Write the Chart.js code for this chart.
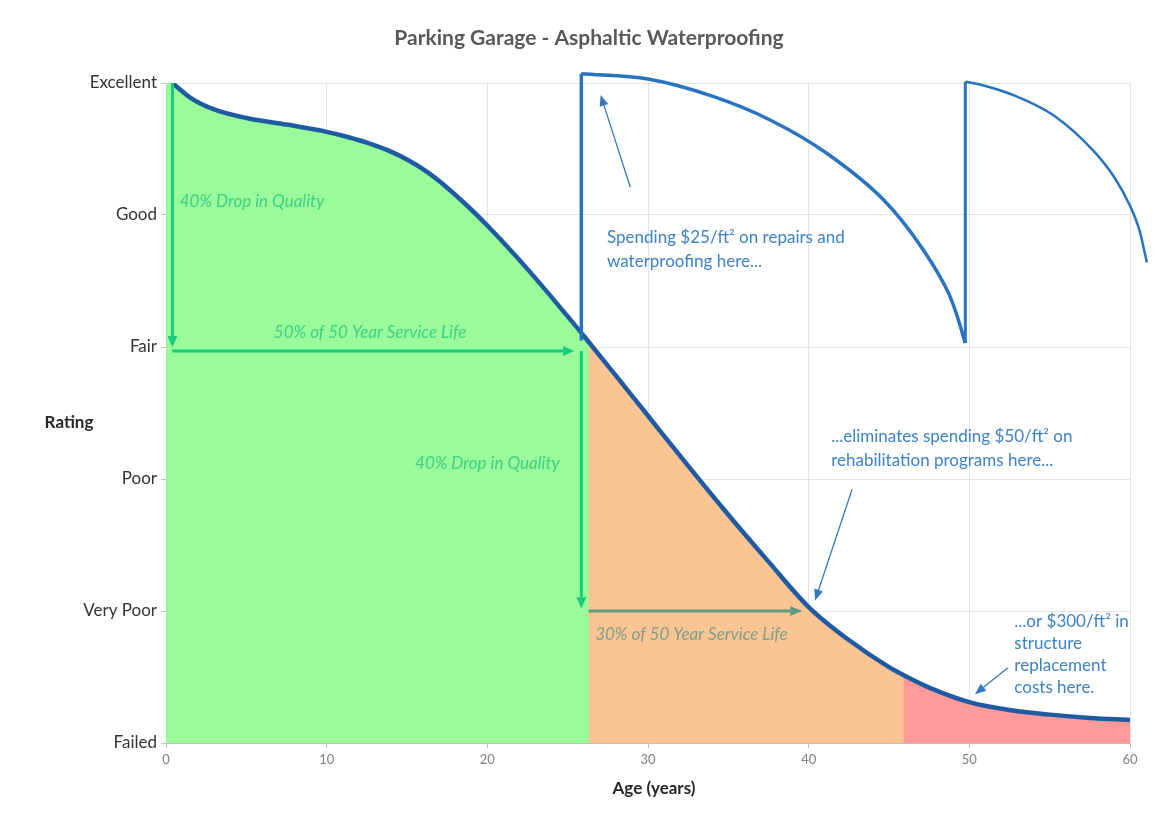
<!DOCTYPE html>
<html>
<head>
<meta charset="utf-8">
<title>Parking Garage - Asphaltic Waterproofing</title>
<script src="https://cdn.jsdelivr.net/npm/chart.js@4.4.1/dist/chart.umd.min.js"></script>
<style>
  html, body { margin: 0; padding: 0; background: #ffffff; }
  canvas { display: block; }
</style>
</head>
<body>
<canvas id="chart" width="1157" height="826"></canvas>
<script>
// Condition rating levels, 0 = Failed ... 5 = Excellent
const ratingLabels = ['Failed', 'Very Poor', 'Poor', 'Fair', 'Good', 'Excellent'];
const ageTicks = [0, 10, 20, 30, 40, 50, 60];

// Deterioration curve without maintenance
const ageYears = [0.4, 1.5, 3, 5, 7.5, 10, 11.25, 12.5, 13.75, 15, 16.25, 17.5, 18.75, 20, 22.5, 25, 26.3, 28, 30, 32.5, 35, 37.5, 40, 42.5, 45, 45.9, 47.5, 50, 52.5, 55, 57.5, 60];
const conditionRating = [5.0, 4.89, 4.80, 4.735, 4.685, 4.63, 4.593, 4.549, 4.493, 4.42, 4.326, 4.207, 4.07, 3.92, 3.59, 3.232, 3.04, 2.783, 2.479, 2.099, 1.729, 1.374, 1.03, 0.78, 0.575, 0.515, 0.42, 0.31, 0.25, 0.215, 0.19, 0.175];

// Shaded zones under the curve (end age of green and orange zones)
const greenZoneEnd = 26.3;
const orangeZoneEnd = 45.9;

// Condition after repairs + waterproofing at ~26 years and again at ~50 years
const repairCycle1Ages = [25.85, 30, 34, 37.6, 41.1, 44.7, 47, 48.7, 49.2, 49.75];
const repairCycle1Rating = [5.07, 5.03, 4.90, 4.72, 4.47, 4.11, 3.76, 3.41, 3.25, 3.03];
const repairCycle2Ages = [49.75, 50.6, 52.9, 55.3, 57.7, 59, 60, 60.6, 61.05];
const repairCycle2Rating = [5.01, 4.99, 4.90, 4.75, 4.49, 4.29, 4.07, 3.88, 3.64];
const repairJump1 = [[25.85, 3.05], [25.85, 5.07]];
const repairJump2 = [[49.75, 3.03], [49.75, 5.01]];

// Measurement arrows: [fromAge, fromRating, toAge, toRating]
const qualityArrows = [
  [0.4, 5.0, 0.4, 3.0],
  [0.4, 2.97, 25.4, 2.97],
  [25.85, 2.97, 25.85, 1.02],
];
const lifeArrow = [26.3, 1.0, 39.6, 1.0];
const noteArrows = [
  [28.9, 4.21, 27.05, 4.91],
  [42.7, 1.92, 40.4, 1.08],
  [52.4, 0.57, 50.35, 0.37],
];

// Text notes: [text, age, rating, align]
const greenNotes = [
  ['40% Drop in Quality', 0.85, 4.1, 'left'],
  ['50% of 50 Year Service Life', 12.7, 3.11, 'center'],
  ['40% Drop in Quality', 20.0, 2.12, 'center'],
];
const greyNotes = [
  ['30% of 50 Year Service Life', 32.7, 0.82, 'center'],
];
const blueNotes = [
  ['Spending $25/ft\u00B2 on repairs and', 27.45, 3.83, 'left'],
  ['waterproofing here...', 27.45, 3.65, 'left'],
  ['...eliminates spending $50/ft\u00B2 on', 41.4, 2.32, 'left'],
  ['rehabilitation programs here...', 41.4, 2.14, 'left'],
  ['...or $300/ft\u00B2 in', 52.8, 0.92, 'left'],
  ['structure', 52.8, 0.755, 'left'],
  ['replacement', 52.8, 0.59, 'left'],
  ['costs here.', 52.8, 0.42, 'left'],
];

const FONT = 'Lato, "Open Sans", sans-serif';

const toXY = (xs, ys) => xs.map((x, i) => ({ x: x, y: ys[i] }));
const curve = toXY(ageYears, conditionRating);
// each zone runs one point past its end and sits under the next zone, so no seam shows
const upTo = end => {
  const k = curve.findIndex(p => p.x > end);
  return k < 0 ? curve.length : k + 1;
};
const greenZone = [{ x: 0, y: 5 }].concat(curve.slice(0, upTo(greenZoneEnd)));
const orangeZone = curve.slice(curve.findIndex(p => p.x >= greenZoneEnd), upTo(orangeZoneEnd));
const redZone = curve.filter(p => p.x >= orangeZoneEnd);
const pairXY = pts => pts.map(p => ({ x: p[0], y: p[1] }));
// second cycle runs past the 60-year edge; listed end-first so every point is kept
const repairCycle2 = toXY(repairCycle2Ages, repairCycle2Rating).reverse();

function zoneDataset(data, color, order) {
  return {
    data: data, fill: 'origin', backgroundColor: color, borderWidth: 0,
    pointRadius: 0, cubicInterpolationMode: 'monotone', order: order
  };
}

function drawArrow(ctx, x1, y1, x2, y2, color, width, headLen, headHalf) {
  const ang = Math.atan2(y2 - y1, x2 - x1);
  const bx = x2 - headLen * Math.cos(ang);
  const by = y2 - headLen * Math.sin(ang);
  ctx.save();
  ctx.strokeStyle = color;
  ctx.fillStyle = color;
  ctx.lineWidth = width;
  ctx.lineCap = 'butt';
  ctx.beginPath();
  ctx.moveTo(x1, y1);
  ctx.lineTo(bx, by);
  ctx.stroke();
  ctx.beginPath();
  ctx.moveTo(x2, y2);
  ctx.lineTo(bx + headHalf * Math.sin(ang), by - headHalf * Math.cos(ang));
  ctx.lineTo(bx - headHalf * Math.sin(ang), by + headHalf * Math.cos(ang));
  ctx.closePath();
  ctx.fill();
  ctx.restore();
}

const annotations = {
  id: 'annotations',
  afterDraw(chart) {
    const ctx = chart.ctx;
    const xs = chart.scales.x, ys = chart.scales.y;
    const px = v => xs.getPixelForValue(v);
    const py = v => ys.getPixelForValue(v);

    qualityArrows.forEach(a => drawArrow(ctx, px(a[0]), py(a[1]), px(a[2]), py(a[3]), '#17cc7c', 3, 11, 5));
    drawArrow(ctx, px(lifeArrow[0]), py(lifeArrow[1]), px(lifeArrow[2]), py(lifeArrow[3]), '#5d9b7c', 3, 12, 5);
    noteArrows.forEach(a => drawArrow(ctx, px(a[0]), py(a[1]), px(a[2]), py(a[3]), '#3478bd', 1.3, 11, 4.5));

    ctx.save();
    ctx.textBaseline = 'middle';
    const put = (list, font, color) => {
      ctx.font = font;
      ctx.fillStyle = color;
      list.forEach(n => {
        ctx.textAlign = n[3];
        ctx.fillText(n[0], px(n[1]), py(n[2]));
      });
    };
    put(greenNotes, 'italic 17px ' + FONT, '#3fcf86');
    put(greyNotes, 'italic 17px ' + FONT, '#7f9e8b');
    put(blueNotes, '17px ' + FONT, '#3d82c4');

    // Chart title and axis titles
    ctx.textAlign = 'center';
    ctx.fillStyle = '#595959';
    ctx.font = 'bold 21px ' + FONT;
    ctx.fillText('Parking Garage - Asphaltic Waterproofing', 589, 38);
    ctx.fillStyle = '#262626';
    ctx.font = 'bold 17px ' + FONT;
    ctx.fillText('Rating', 69, 423);
    ctx.fillText('Age (years)', 654, 789);
    ctx.restore();
  }
};

new Chart(document.getElementById('chart'), {
  type: 'line',
  data: {
    datasets: [
      {
        data: curve, borderColor: '#1f5ba3', borderWidth: 4.5, pointRadius: 0,
        fill: false, cubicInterpolationMode: 'monotone', order: 2
      },
      {
        data: toXY(repairCycle1Ages, repairCycle1Rating), borderColor: '#2a73c0', borderWidth: 3.5,
        pointRadius: 0, fill: false, cubicInterpolationMode: 'monotone', order: 1, clip: false
      },
      {
        data: repairCycle2, borderColor: '#2a73c0', borderWidth: 2.5,
        pointRadius: 0, fill: false, cubicInterpolationMode: 'monotone', order: 1, clip: false
      },
      {
        data: pairXY(repairJump1), borderColor: '#2a73c0', borderWidth: 3.5,
        pointRadius: 0, fill: false, tension: 0, order: 1, clip: false
      },
      {
        data: pairXY(repairJump2), borderColor: '#2a73c0', borderWidth: 3,
        pointRadius: 0, fill: false, tension: 0, order: 1, clip: false
      },
      zoneDataset(greenZone, '#99fb99', 12),
      zoneDataset(orangeZone, '#fac592', 11),
      zoneDataset(redZone, '#ff9a9a', 10),
    ]
  },
  options: {
    responsive: false,
    animation: false,
    events: [],
    layout: { padding: { left: 0, right: 27, top: 83, bottom: 0 } },
    plugins: { legend: { display: false }, tooltip: { enabled: false }, title: { display: false } },
    scales: {
      x: {
        type: 'linear', min: 0, max: 60, z: 1,
        afterFit(scale) { scale.height = 83; },
        afterBuildTicks(scale) { scale.ticks = ageTicks.map(v => ({ value: v })); },
        grid: { color: 'rgba(0,0,0,0.10)', lineWidth: 1, tickLength: 5, tickColor: '#bfbfbf' },
        border: { color: '#bfbfbf' },
        ticks: { color: '#808080', font: { family: FONT, size: 13 }, padding: 4, maxRotation: 0 }
      },
      y: {
        type: 'linear', min: 0, max: 5, z: 1,
        afterFit(scale) { scale.width = 166; },
        ticks: {
          stepSize: 1, color: '#333333', font: { family: FONT, size: 17 }, padding: 4,
          callback: v => ratingLabels[v]
        },
        grid: { color: 'rgba(0,0,0,0.10)', lineWidth: 1, tickLength: 5, tickColor: '#bfbfbf' },
        border: { color: '#bfbfbf' }
      }
    }
  },
  plugins: [annotations]
});
</script>
</body>
</html>
